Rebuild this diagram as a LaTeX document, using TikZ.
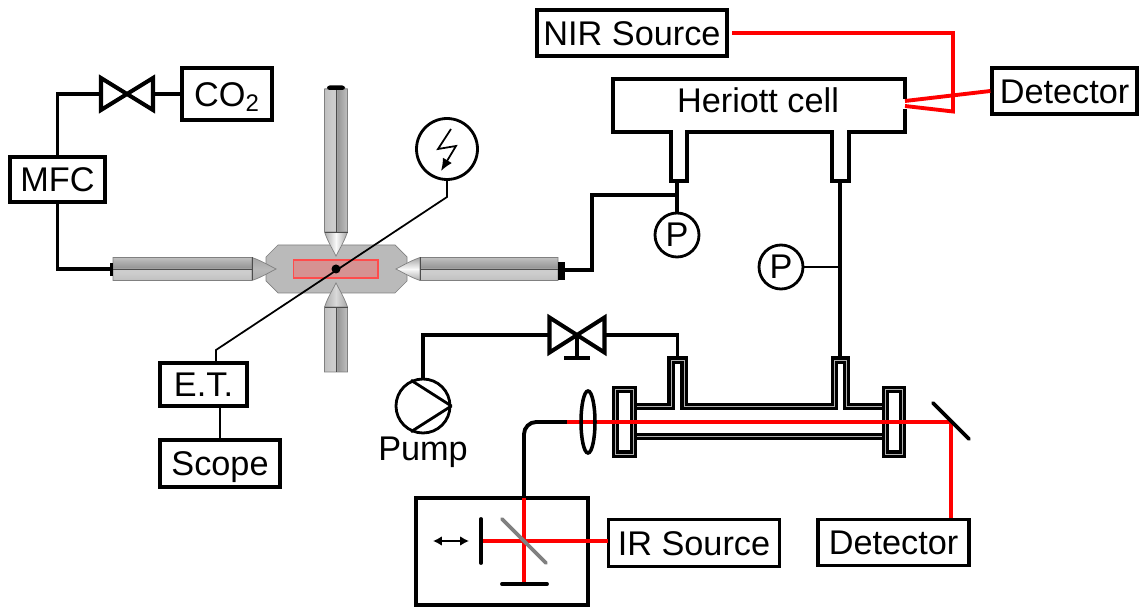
\documentclass[tikz,border=0pt]{standalone}
\usepackage{fontspec}
\setmainfont{Liberation Sans}
\usetikzlibrary{arrows.meta, positioning}
\definecolor{beamred}{RGB}{255, 0, 0}
\definecolor{steeldark}{RGB}{150, 150, 150}
\definecolor{steelmid}{RGB}{192, 192, 192}
\definecolor{steellight}{RGB}{205, 205, 205}
\definecolor{chambergray}{RGB}{186, 186, 186}
\definecolor{plasmared}{RGB}{214, 146, 146}
\pgfdeclareverticalshading{steelbody}{100bp}{color(0bp)=(steelmid); color(25bp)=(steelmid);
  color(42bp)=(steellight); color(49bp)=(steellight); color(53bp)=(steeldark);
  color(75bp)=(steelmid); color(100bp)=(steelmid)}
\tikzset{
  labelbox/.style={draw, line width=1.85pt, inner sep=0pt, text height=14pt, text depth=0pt,
    font=\fontsize{19.5}{22}\selectfont},
  gauge/.style={draw, circle, line width=1.6pt, inner sep=0pt, font=\fontsize{19.5}{22}\selectfont},
  pipe/.style={line width=2.2pt},
  wire/.style={line width=1pt},
  beam/.style={beamred, line width=2.4pt},
  mirror/.style={line width=2.2pt, line cap=round},
  glass/.style={line width=1.85pt, double=gray!60, double distance=0.3pt},
  valvebox/.style={inner sep=0pt, outer sep=0pt},
  bowtie/.style={line width=2.3pt, line join=miter},
}
% #1 base, #2 rotation, #3 body length, #4 shading angle, #5 tip highlight
\newcommand{\electrode}[5]{
  \begin{scope}[shift={(#1)}, rotate=#2]
    \shade[shading=steelbody, shading angle=#4] (0,-11.5) rectangle (#3,11.5);
    \shade[top color=gray!70, bottom color=gray!65, middle color=#5, shading angle=#4]
      (#3,-11.5) .. controls (#3+10,-8) and (#3+18,-3) .. (#3+24,0)
      .. controls (#3+18,3) and (#3+10,8) .. (#3,11.5) -- cycle;
    \draw[gray, line width=0.4pt] (0,-11.5) rectangle (#3,11.5)
      (#3,-11.5) .. controls (#3+10,-8) and (#3+18,-3) .. (#3+24,0)
      .. controls (#3+18,3) and (#3+10,8) .. (#3,11.5);
    \draw[black!70, line width=0.4pt] (0,0) -- (#3,0) (#3,-11.5) -- (#3,11.5);
  \end{scope}
}
\begin{document}
\begin{tikzpicture}[x=0.02cm, y=-0.02cm]
  \useasboundingbox (0,0) rectangle (1143,607);
  % gas inlet
  \node[labelbox, minimum width=1.9cm, minimum height=0.9cm] (mfc) at (57.5,179.5) {MFC};
  \node[labelbox, minimum width=1.8cm, minimum height=1.04cm] (co2) at (227,94) {CO\textsubscript{2}};
  \node[valvebox, minimum width=1.04cm, minimum height=0.64cm] (valvea) at (127,94) {};
  \draw[bowtie] (valvea.north west) -- (valvea.south east) -- (valvea.north east)
    -- (valvea.south west) -- cycle;
  \draw[pipe] (mfc.north) |- (valvea.west);
  \draw[pipe] (valvea.east) -- (co2.west);
  % discharge chamber
  \draw[gray, line width=0.4pt, fill=chambergray] (278,245) -- (395,245) -- (407,257) -- (407,281)
    -- (395,293) -- (278,293) -- (266,281) -- (266,257) -- cycle;
  \draw[red!70, line width=0.6pt, fill=plasmared] (293.5,260) rectangle (378,278);
  \electrode{113,269}{0}{139}{0}{gray!55}
  \electrode{558,269}{180}{138}{0}{gray!5}
  \electrode{336,89}{-90}{143}{-90}{gray!5}
  \electrode{336,372}{90}{65}{-90}{gray!30}
  \fill (110,263) rectangle (113,276);
  \fill (558,262) rectangle (565,280);
  \fill[rounded corners=1.5pt] (327,90) rectangle (345,85.5);
  \coordinate (leftcap) at (110,269);
  \coordinate (rightcap) at (565,270);
  \draw[pipe] (mfc.south) |- (leftcap);
  % high voltage and current probe
  \node[gauge, minimum size=1.22cm] (supply) at (447,149) {};
  \draw[line width=1pt, -{Latex[length=7pt, width=6pt]}] (451,129) -- (438,149) -- (456,146) -- (441,171);
  \node[labelbox, minimum width=1.74cm, minimum height=0.86cm] (et) at (203.5,384.5) {E.T.};
  \node[labelbox, minimum width=2.4cm, minimum height=0.94cm] (scopebox) at (220,463.5) {Scope};
  \coordinate (ettop) at (216,363);
  \draw[wire] (supply.south) -- (447,197) -- (216,350) -- (ettop);
  \draw[wire] (et.south -| scopebox.north) -- (scopebox.north);
  \fill (336,269) circle (4.5);
  % Heriott cell
  \node[font=\fontsize{19.5}{22}\selectfont] (heriott) at (758,100) {Heriott cell};
  \draw[line width=1.9pt] (905,99) -- (905,79) -- (613,79) -- (613,132) -- (671,132) -- (671,181)
    -- (687,181) -- (687,132) -- (832,132) -- (832,181) -- (849,181) -- (849,132) -- (905,132) -- (905,109);
  \node[labelbox, minimum width=3.8cm, minimum height=0.92cm] (nir) at (632,33) {NIR Source};
  \node[labelbox, minimum width=2.9cm, minimum height=0.92cm] (detectora) at (1064.5,91) {Detector};
  \coordinate (cellin) at (905,106);
  \coordinate (cellout) at (905,101);
  \draw[beamred, line width=2.2pt, shorten <=2pt] (nir.east) -- (953,33) -- (953,111.5) -- (cellin);
  \draw[beamred, line width=2.2pt] (detectora.west) -- (cellout);
  % pressure gauges and tubing
  \coordinate (stubc) at (677,181);
  \coordinate (stubd) at (840,181);
  \coordinate (stube) at (840,357);
  \coordinate (stubf) at (677.5,357);
  \node[gauge, minimum size=0.88cm] (pa) at (677,235) {P};
  \node[gauge, minimum size=0.88cm] (pb) at (781,267) {P};
  \draw[pipe] (stubc) -- (pa.north);
  \draw[pipe] (677,195) -- (592,195) -- (592,270) -- (rightcap);
  \draw[pipe] (stubd) -- (stube);
  \draw[line width=1.4pt] (pb.east) -- (840,267);
  % absorption cell
  \draw[glass, line join=miter] (633,406.5) -- (671,406.5) -- (671,360) -- (684,360) -- (684,406.5)
    -- (834.5,406.5) -- (834.5,360) -- (846.5,360) -- (846.5,406.5) -- (885,406.5);
  \draw[glass] (633,436.5) -- (885,436.5);
  \draw[glass] (615.5,389.5) rectangle (633.5,454);
  \draw[glass] (885.5,389.5) rectangle (902.5,454);
  % pump line
  \node[valvebox, minimum width=1.1cm, minimum height=0.7cm] (valveb) at (577,335) {};
  \draw[bowtie] (valveb.north west) -- (valveb.south east) -- (valveb.north east)
    -- (valveb.south west) -- cycle;
  \draw[line width=2.1pt] (valveb.center) -- (577,358);
  \draw[line width=2.6pt] (564,358) -- (590,358);
  \node[gauge, minimum size=1.08cm] (pump) at (423,406) {};
  \draw[line width=1.6pt, line join=bevel] (pump.115) -- (pump.east) -- (pump.245);
  \node[font=\fontsize{19.5}{22}\selectfont] (pumplabel) at (423,452) {Pump};
  \draw[pipe] (valveb.west) -| (pump.north);
  \draw[pipe] (valveb.east) -| (stubf);
  % interferometer
  \node[labelbox, minimum width=3.44cm, minimum height=2.14cm] (ftir) at (502,551.5) {};
  \node[labelbox, minimum width=3.42cm, minimum height=0.94cm] (irsource) at (694,543) {IR Source};
  \node[labelbox, minimum width=3.02cm, minimum height=0.92cm] (detectorb) at (893.5,542.5) {Detector};
  \coordinate (fibre) at (524,498);
  \coordinate (beamstart) at (567,422);
  \coordinate (turn) at (951,422);
  \coordinate (irin) at (608,541);
  \draw[pipe, rounded corners=7pt] (beamstart) -| (fibre);
  \draw[beam] (beamstart) -- (turn);
  \draw[beam] (turn) -- (turn |- detectorb.north);
  \draw[beam] (fibre) -- (524,583);
  \draw[beam] (irin) -- (483,541);
  \draw[line width=2pt] (588,422) ellipse (7 and 31);
  \draw[mirror] (933,403) -- (969,439);
  \draw[mirror] (481,519) -- (481,563);
  \draw[mirror] (502,584) -- (547,584);
  \draw[mirror, gray] (502,519) -- (546,563);
  \draw[line width=1pt, {Latex[length=5pt, width=5.5pt]}-{Latex[length=5pt, width=5.5pt]}] (433,541) -- (469,541);
\end{tikzpicture}
\end{document}
